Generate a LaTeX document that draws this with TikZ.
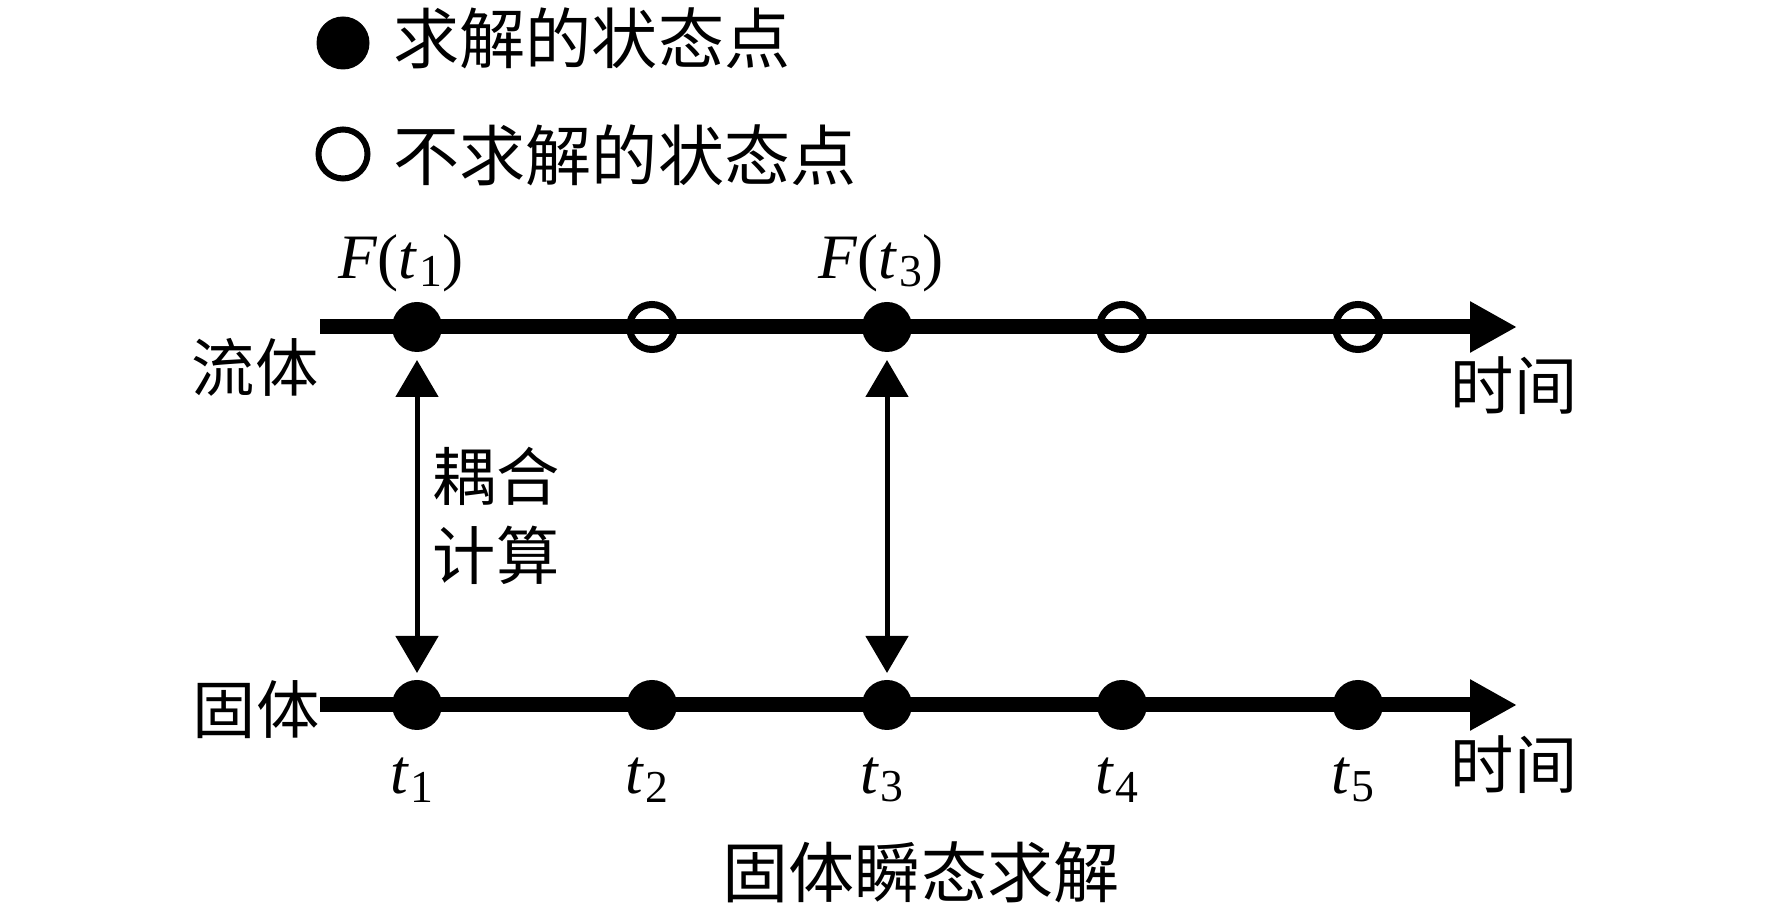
\documentclass[tikz,border=0pt]{standalone}
\usepackage{fontspec}
\setmainfont{Liberation Serif}
\newfontfamily\cjk{Noto Sans CJK SC}
\usetikzlibrary{calc,arrows.meta}
\newcommand{\tsb}[1]{\textit{t}\kern0.03em\raisebox{-0.3ex}{\fontsize{13}{13}\selectfont #1}}

\begin{document}
\begin{tikzpicture}[
    every node/.style={font=\fontsize{18}{22.4}\selectfont, inner sep=0pt},
    big text/.style={font=\fontsize{18.8}{22.4}\selectfont},
    time axis/.style={line width=0.15cm, -{Triangle[length=0.47cm,width=0.48cm]}},
    solved/.style={circle, fill=black, minimum size=0.5cm, outer sep=0pt},
    skipped/.style={circle, draw=black, line width=0.07cm, minimum size=0.45cm, outer sep=0pt},
    coupling/.style={line width=0.05cm, {Triangle[length=0.37cm,width=0.42cm]}-{Triangle[length=0.37cm,width=0.42cm]},
        shorten <=0.08cm, shorten >=0.07cm}
    ]
    \useasboundingbox (0,0) rectangle (17.72,9.21);
    % Legend
    \node[solved, minimum size=0.53cm] (lgsolved) at (3.43,8.78) {};
    \node[big text, anchor=west] (lgsolvedtxt) at (3.93,8.83) {\cjk 求解的状态点};
    \node[skipped, line width=0.06cm, minimum size=0.49cm] (lgskipped) at (3.43,7.67) {};
    \node[big text, anchor=west] (lgskippedtxt) at (3.93,7.66) {\cjk 不求解的状态点};
    % Time axes
    \coordinate (fl0) at (3.20,5.94);
    \coordinate (fl6) at (15.17,5.94);
    \coordinate (sl0) at (3.20,2.16);
    \coordinate (sl6) at (15.17,2.16);
    \draw[time axis] (fl0) -- (fl6);
    \draw[time axis] (sl0) -- (sl6);
    \node (fluid) at (2.55,5.54) {\cjk 流体};
    \node (solid) at (2.56,2.11) {\cjk 固体};
    \node (ftime) at (15.14,5.35) {\cjk 时间};
    \node (stime) at (15.14,1.56) {\cjk 时间};
    % State points
    \foreach \x/\st [count=\i] in {4.17/solved,6.52/skipped,8.87/solved,11.22/skipped,13.58/skipped}
        \node[\st] (f\i) at (\x,5.94) {};
    \foreach \x [count=\i] in {4.17,6.52,8.87,11.22,13.58} {
        \node[solved] (s\i) at (\x,2.16) {};
        \node (t\i) at ($(s\i)+(-0.05,-0.75)$) {\tsb{\i}};
    }
    \node (F1) at (4.01,6.58) {\textit{F}(\tsb{1})};
    \node (F3) at (8.81,6.58) {\textit{F}(\tsb{3})};
    % Coupling
    \draw[coupling] (f1) -- (s1);
    \draw[coupling] (f3) -- (s3);
    \node[align=center] (couple) at (4.96,4.05) {\cjk 耦合\\\cjk 计算};
    \node[big text] (title) at (9.21,0.49) {\cjk 固体瞬态求解};
\end{tikzpicture}
\end{document}
